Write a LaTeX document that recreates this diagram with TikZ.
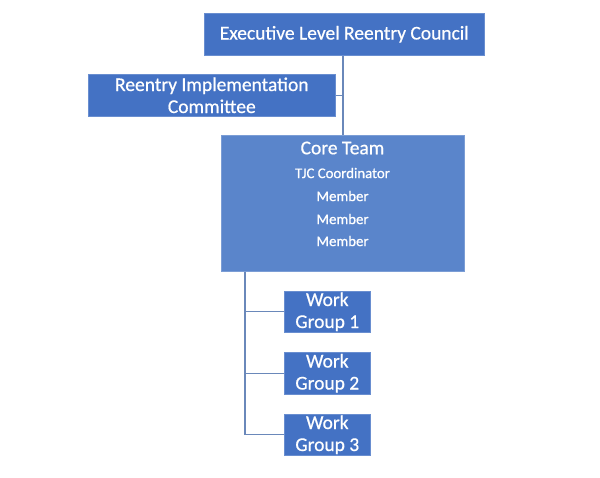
\documentclass[tikz,border=0pt]{standalone}
\usepackage{fontspec}
\setmainfont{Carlito}[FakeBold=0.6]
\definecolor{boxblue}{HTML}{4472C4}
\definecolor{coreblue}{HTML}{5A85CB}
\definecolor{linecol}{HTML}{6A88BA}
\begin{document}
\begin{tikzpicture}[x=1pt,y=-1pt,
  box/.style={fill=boxblue, draw=boxblue!80!white, line width=0.6pt, text=white, anchor=north west, inner sep=0pt, align=center, font=\fontsize{19.5}{22}\selectfont},
  corebox/.style={box, fill=coreblue, draw=coreblue!80!white},
  corelbl/.style={text=white, inner sep=0pt, font=\fontsize{14.8}{16}\selectfont},
  conn/.style={draw=linecol, line width=1.1pt}]
\useasboundingbox (0,0) rectangle (600,477);
\node[box, minimum width=280pt, minimum height=42pt] (exec) at (204,13) {Executive Level Reentry Council};
\node[box, minimum width=247pt, minimum height=42pt] (impl) at (88,74) {Reentry Implementation\\Committee};
\node[corebox, minimum width=243pt, minimum height=136pt] (core) at (221,135) {};
\node[text=white, inner sep=0pt, font=\fontsize{19.5}{22}\selectfont] (coret) at (342.5,148) {Core Team};
\node[corelbl] (tjc) at (342.5,173) {TJC Coordinator};
\node[corelbl] (m1) at (342.5,196) {Member};
\node[corelbl] (m2) at (342.5,219) {Member};
\node[corelbl] (m3) at (342.5,241) {Member};
\node[box, minimum width=86pt, minimum height=41pt] (wg1) at (284,291) {Work\\Group 1};
\node[box, minimum width=86pt, minimum height=42pt] (wg2) at (284,352) {Work\\Group 2};
\node[box, minimum width=86pt, minimum height=41pt] (wg3) at (284,414) {Work\\Group 3};
\coordinate (spine) at (343,0);
\coordinate (wgspine) at (245,0);
\draw[conn] (exec.south -| spine) -- (core.north -| spine);
\draw[conn] (impl.east) -- (impl.east -| spine);
\draw[conn] (core.south -| wgspine) -- (wg3.west -| wgspine) -- (wg3.west);
\draw[conn] (wg1.west -| wgspine) -- (wg1.west);
\draw[conn] (wg2.west -| wgspine) -- (wg2.west);
\end{tikzpicture}
\end{document}
